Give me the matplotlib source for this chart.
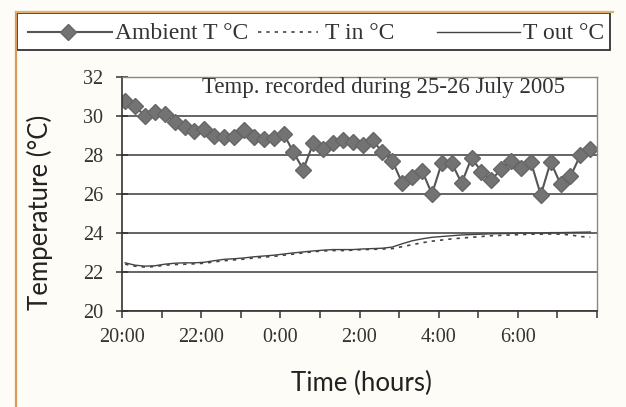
import numpy as np
import matplotlib
matplotlib.use("Agg")
import matplotlib.pyplot as plt
from matplotlib.lines import Line2D
from matplotlib.patches import Rectangle

# hours after 20:00, one reading every 15 min starting 20:05
t_start = 0.08
t_step = 0.25

ambient = [30.75, 30.5, 30.0, 30.2, 30.1, 29.7, 29.45, 29.25, 29.35, 29.0,
           28.9, 28.9, 29.3, 28.9, 28.8, 28.85, 29.1, 28.15, 27.25, 28.6,
           28.3, 28.6, 28.75, 28.65, 28.5, 28.75, 28.15, 27.7, 26.55, 26.85,
           27.2, 26.0, 27.6, 27.6, 26.55, 27.85, 27.15, 26.7, 27.3, 27.7,
           27.35, 27.65, 25.95, 27.65, 26.5, 26.9, 28.0, 28.3]

t_in = [22.4, 22.3, 22.25, 22.28, 22.35, 22.38, 22.4, 22.42, 22.45, 22.52,
        22.58, 22.62, 22.66, 22.72, 22.76, 22.8, 22.86, 22.92, 22.98, 23.04,
        23.08, 23.1, 23.1, 23.12, 23.15, 23.16, 23.18, 23.2, 23.3, 23.4,
        23.5, 23.58, 23.64, 23.7, 23.74, 23.78, 23.82, 23.86, 23.88, 23.9,
        23.92, 23.94, 23.94, 23.95, 23.94, 23.9, 23.82, 23.78]

t_out = [22.47, 22.35, 22.3, 22.32, 22.4, 22.45, 22.47, 22.47, 22.5, 22.58,
         22.65, 22.68, 22.72, 22.78, 22.82, 22.86, 22.92, 22.98, 23.03, 23.08,
         23.12, 23.15, 23.15, 23.15, 23.18, 23.2, 23.22, 23.28, 23.45, 23.6,
         23.7, 23.78, 23.82, 23.86, 23.9, 23.92, 23.94, 23.96, 23.97, 23.98,
         24.0, 24.0, 24.0, 24.02, 24.02, 24.03, 24.04, 24.05]

hour_labels = ["20:00", "", "22:00", "", "0:00", "", "2:00", "", "4:00", "",
               "6:00", "", ""]
y_ticks = [20, 22, 24, 26, 28, 30, 32]
series_names = ["Ambient T \u00b0C", "T in \u00b0C", "T out \u00b0C"]

times = t_start + t_step * np.arange(len(ambient))

W, H = 626, 407
def fx(px):
    return px / W
def fy(py):
    return 1 - py / H

fig = plt.figure(figsize=(W / 100, H / 100), dpi=100, facecolor="#fdfcf6")
ax = fig.add_axes([fx(122), fy(311), 475 / W, 234 / H])
ax.set_facecolor("white")

amb_style = dict(color="#555555", lw=1.5, marker="D", ms=8,
                 mfc="#737373", mec="#666666")
in_style = dict(color="#444444", lw=1.2, ls=(0, (2, 3)))
out_style = dict(color="#444444", lw=1.0)

ax.plot(times, ambient, **amb_style)
ax.plot(times, t_in, **in_style)
ax.plot(times, t_out, **out_style)

ax.set_xlim(0, 12)
ax.set_ylim(20, 32)
ax.set_xticks(range(13))
ax.set_xticklabels(hour_labels)
ax.set_yticks(y_ticks)
ax.yaxis.grid(True, color="#3a3a3a", lw=1.1)
ax.set_axisbelow(True)

for side in ["left", "bottom"]:
    ax.spines[side].set_color("#333333")
    ax.spines[side].set_linewidth(1.2)
for side in ["top", "right"]:
    ax.spines[side].set_color("#888888")
    ax.spines[side].set_linewidth(1.0)

ax.tick_params(axis="y", direction="inout", length=9, width=1.1, pad=9,
               colors="#333333", labelsize=14.5)
ax.tick_params(axis="x", direction="out", length=5, width=1.1, pad=7,
               colors="#333333", labelsize=14.5)
for lab in ax.get_xticklabels() + ax.get_yticklabels():
    lab.set_family("Liberation Serif")

fig.text(fx(40), fy(212), "Temperature (\u00b0C)", rotation=90, ha="center",
         va="center", family="Lato", fontsize=18.5, color="#222222")
fig.text(fx(361), fy(383), "Time (hours)", ha="center", va="center",
         family="Lato", fontsize=18.5, color="#222222")

ax.text(fx(383), fy(88), "Temp. recorded during 25-26 July 2005",
        transform=fig.transFigure, ha="center", va="center",
        family="Liberation Serif", fontsize=16.5, color="#333333")

# legend box across the top, laid out like the original
fig.add_artist(Rectangle((fx(17), fy(50)), 593 / W, 37 / H, transform=fig.transFigure,
                         fill=True, facecolor="white", edgecolor="#333333", lw=1.3))
ly = fy(32)
leg_handles = [(28, 112, amb_style), (258, 318, in_style), (437, 520, out_style)]
leg_text_x = [115, 325, 523]
for (x0, x1, st), tx, name in zip(leg_handles, leg_text_x, series_names):
    line_kw = {k: v for k, v in st.items() if k in ("color", "lw", "ls")}
    fig.add_artist(Line2D([fx(x0), fx(x1)], [ly, ly], **line_kw))
    if "marker" in st:
        fig.add_artist(Line2D([fx((x0 + x1) / 2 - 2)], [ly], marker=st["marker"],
                              ms=st["ms"], mfc=st["mfc"], mec=st["mec"], ls="none"))
    fig.text(fx(tx), fy(39), name, ha="left", va="baseline", family="Liberation Serif",
             fontsize=17, color="#333333")

# orange scan edge
fig.add_artist(Line2D([fx(16), fx(16)], [0, fy(12)], color="#d89a5a", lw=1.6))
fig.add_artist(Line2D([fx(16), fx(613)], [fy(12), fy(12)], color="#e0b070", lw=1.6))

fig.savefig("out.png", dpi=100, facecolor=fig.get_facecolor())
